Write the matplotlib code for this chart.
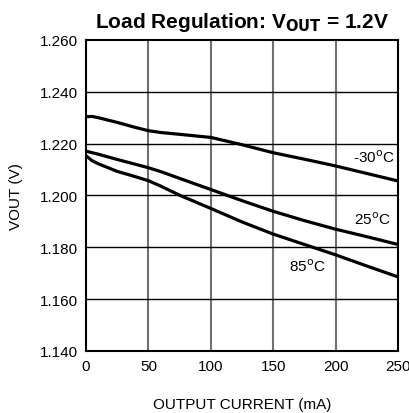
import matplotlib
matplotlib.use("Agg")
from matplotlib import pyplot as plt

plt.rcParams['font.family'] = ['Liberation Sans', 'DejaVu Sans']

# Output current (mA) sample points
current = [0, 5, 10, 25, 40, 50, 60, 75, 100, 125, 150, 175, 200, 225, 250]

# VOUT (V) per temperature
vout_m30 = [1.2304, 1.2305, 1.2300, 1.2282, 1.2262, 1.2250, 1.2243, 1.2236,
            1.2224, 1.2196, 1.2165, 1.2140, 1.2114, 1.2085, 1.2056]
vout_25 = [1.2171, 1.2165, 1.2159, 1.2139, 1.2120, 1.2107, 1.2092, 1.2066,
           1.2023, 1.1980, 1.1939, 1.1903, 1.1870, 1.1841, 1.1811]
vout_85 = [1.2153, 1.2134, 1.2122, 1.2093, 1.2072, 1.2057, 1.2036, 1.2001,
           1.1950, 1.1898, 1.1851, 1.1811, 1.1771, 1.1728, 1.1686]

x_ticks = [0, 50, 100, 150, 200, 250]
y_ticks = [1.140, 1.160, 1.180, 1.200, 1.220, 1.240, 1.260]

fig = plt.figure(figsize=(4.09, 4.14), dpi=100)
ax = fig.add_axes([0.2103, 0.1498, 0.7627, 0.7512])

# Grid: gray verticals, black horizontals
for x in x_ticks[1:-1]:
    ax.axvline(x, color='#707070', lw=1.5, zorder=1)
for y in y_ticks[1:-1]:
    ax.axhline(y, color='black', lw=1.0, zorder=1)

for series in (vout_m30, vout_25, vout_85):
    ax.plot(current, series, color='black', lw=2.3, zorder=3,
            solid_joinstyle='round', solid_capstyle='butt')

ax.text(231, 1.2150, '-30$^{\\rm o}$C', ha='center', va='center', fontsize=11)
ax.text(229, 1.1910, '25$^{\\rm o}$C', ha='center', va='center', fontsize=11)
ax.text(177, 1.1730, '85$^{\\rm o}$C', ha='center', va='center', fontsize=11)

ax.set_xlim(0, 250)
ax.set_ylim(1.140, 1.260)
ax.set_xticks(x_ticks)
ax.set_yticks(y_ticks)
ax.set_yticklabels([f"{v:.3f}" for v in y_ticks])
ax.tick_params(length=0, labelsize=11, pad=6)
for s in ax.spines.values():
    s.set_linewidth(1.5)

ax.set_xlabel("OUTPUT CURRENT (mA)", fontsize=11, labelpad=17)
ax.set_ylabel("VOUT (V)", fontsize=11, labelpad=12)
ax.set_title("Load Regulation: V$_{\\mathbf{OUT}}$ = 1.2V", fontsize=15,
             fontweight='bold', pad=9)

fig.savefig("out.png", dpi=100)
